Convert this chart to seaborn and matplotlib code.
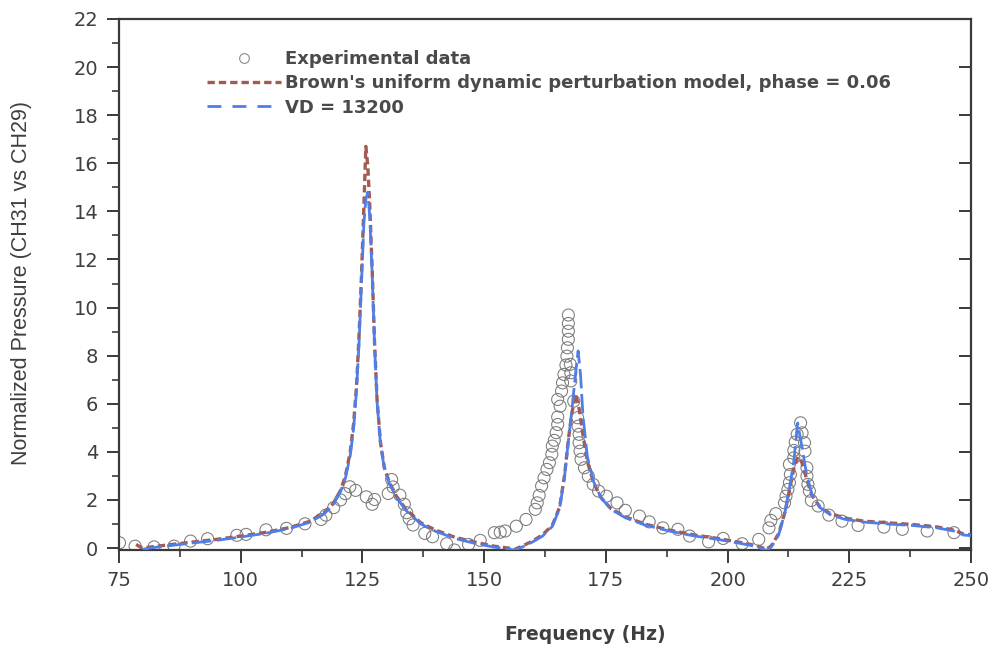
import matplotlib
matplotlib.use("Agg")
import matplotlib.pyplot as plt
from matplotlib.lines import Line2D
from matplotlib.ticker import MultipleLocator
import seaborn as sns
import pandas as pd

# ---------------- data ----------------
exp_freq = [75.1, 78.3, 82.2, 86.3, 89.7, 93.2, 99.2, 101.1, 105.2, 109.4, 113.2, 116.5, 117.5,
            119.1, 120.5, 121.5, 122.4, 123.6, 125.8, 127.0, 127.5, 130.3, 131.0, 131.3, 132.7,
            133.6, 134.1, 134.6, 135.4, 137.8, 139.4, 142.3, 143.9, 146.8, 149.2, 152.1, 153.3,
            154.3, 156.6, 158.6, 160.5, 160.9, 161.3, 161.8, 162.3, 162.9, 163.4, 163.9, 164.0,
            164.4, 164.8, 165.1, 165.1, 165.6, 165.1, 165.9, 166.1, 166.4, 166.8, 167.0, 167.1,
            167.3, 167.3, 167.3, 167.3, 167.7, 167.8, 167.8, 168.4, 169.2, 169.3, 169.5, 169.5,
            169.7, 169.9, 170.6, 171.4, 172.4, 173.5, 175.1, 177.3, 179.0, 181.9, 183.9, 186.7,
            189.8, 192.2, 196.1, 199.1, 203.0, 206.4, 208.5, 208.9, 209.9, 211.7, 212.0, 212.4,
            212.7, 212.9, 212.7, 213.6, 213.6, 213.9, 214.3, 215.0, 215.3, 215.8, 215.9, 216.3,
            216.3, 216.5, 216.8, 217.2, 218.6, 220.8, 223.5, 226.8, 232.1, 235.9, 241.0, 246.5]
exp_pressure = [0.22, 0.08, 0.05, 0.08, 0.29, 0.39, 0.53, 0.57, 0.76, 0.82, 1.01, 1.19, 1.37,
                1.68, 2.00, 2.26, 2.55, 2.40, 2.13, 1.82, 2.02, 2.27, 2.85, 2.54, 2.20,
                1.82, 1.47, 1.22, 0.96, 0.61, 0.47, 0.18, -0.08, 0.15, 0.32, 0.64, 0.66,
                0.71, 0.91, 1.19, 1.61, 1.88, 2.19, 2.58, 2.92, 3.27, 3.55, 3.90, 4.24,
                4.48, 4.80, 5.14, 5.45, 5.90, 6.18, 6.53, 6.87, 7.22, 7.61, 7.98, 8.33,
                8.68, 9.02, 9.34, 9.69, 7.64, 7.29, 6.95, 6.11, 5.42, 5.07, 4.73, 4.38,
                4.03, 3.69, 3.34, 2.99, 2.65, 2.37, 2.16, 1.88, 1.57, 1.33, 1.09, 0.84,
                0.78, 0.50, 0.26, 0.40, 0.18, 0.36, 0.84, 1.15, 1.43, 1.88, 2.16, 2.44,
                2.72, 3.06, 3.48, 3.75, 4.06, 4.41, 4.73, 5.21, 4.79, 4.38, 4.03, 3.34,
                2.99, 2.65, 2.37, 1.98, 1.75, 1.37, 1.12, 0.94, 0.87, 0.78, 0.71, 0.64]

brown_freq = [78.5, 79.5, 80.5, 82, 85, 90, 95, 100, 105, 110, 114, 117, 119, 120.5, 121.5,
              122.5, 123.2, 123.8, 124.3, 124.8, 125.3, 125.7, 126.1, 126.5, 127.0, 127.5,
              128.0, 128.7, 129.5, 130.5, 132, 134, 137, 140, 144, 148, 152, 155, 156.3, 158,
              160, 162, 164, 165.5, 166.5, 167.3, 168.0, 168.8, 169.5, 170.3, 171.2, 172.5,
              174, 176, 179, 183, 188, 193, 198, 203, 206, 208, 209, 210.5, 211.8, 212.8,
              213.6, 214.4, 215.2, 216.2, 217.3, 219, 221, 224, 228, 233, 238, 243, 246.5,
              248.5, 250]
brown_pressure = [0.15, 0.03, 0.02, 0.06, 0.13, 0.25, 0.36, 0.50, 0.65, 0.85, 1.10, 1.45, 1.85,
                  2.40, 3.00, 4.00, 5.20, 6.80, 8.80, 11.3, 14.2, 16.7, 15.9, 14.3, 11.6, 8.5,
                  6.2, 4.4, 3.35, 2.75, 2.15, 1.60, 1.05, 0.75, 0.45, 0.25, 0.08, 0.00, -0.05,
                  0.10, 0.30, 0.55, 0.95, 1.70, 3.00, 4.50, 5.60, 6.40, 5.80, 4.70, 3.60, 2.70,
                  2.10, 1.65, 1.30, 1.00, 0.75, 0.55, 0.40, 0.22, 0.10, -0.05, 0.10, 0.60, 1.50,
                  2.50, 3.30, 3.80, 3.60, 2.90, 2.20, 1.70, 1.45, 1.25, 1.12, 1.05, 0.98, 0.88,
                  0.75, 0.58, 0.55]

vd_freq = [79.8, 82, 85, 90, 95, 100, 105, 110, 114, 117, 119, 120.5, 121.5, 122.5, 123.2,
           123.8, 124.3, 124.8, 125.3, 125.7, 126.1, 126.5, 127.0, 127.5, 128.0, 128.7, 129.5,
           130.5, 132, 134, 137, 140, 144, 148, 152, 155, 156.3, 158, 160, 162, 164, 165.5,
           166.5, 167.3, 168.0, 168.8, 169.3, 169.8, 170.3, 171.2, 172.5, 174, 176, 179, 183,
           188, 193, 198, 203, 206, 208, 209, 210.5, 211.8, 212.8, 213.6, 214.4, 215.2, 216.2,
           217.3, 219, 221, 224, 228, 233, 238, 243, 246.5, 248.5, 250]
vd_pressure = [-0.05, 0.02, 0.09, 0.21, 0.32, 0.46, 0.61, 0.81, 1.06, 1.40, 1.80, 2.35, 2.90,
               3.85, 5.00, 6.60, 8.50, 11.0, 13.5, 14.5, 14.8, 13.8, 11.4, 8.4, 6.1, 4.35,
               3.30, 2.70, 2.10, 1.55, 1.00, 0.70, 0.40, 0.20, 0.04, -0.04, -0.08, 0.06, 0.26,
               0.50, 0.90, 1.65, 2.95, 4.45, 5.70, 7.30, 8.20, 7.20, 5.50, 3.80, 2.75, 2.10,
               1.62, 1.26, 0.96, 0.71, 0.51, 0.36, 0.18, 0.06, -0.10, 0.05, 0.55, 1.50, 2.60,
               3.60, 5.20, 4.30, 3.10, 2.25, 1.68, 1.40, 1.20, 1.08, 1.00, 0.94, 0.84, 0.71,
               0.54, 0.52]

legend_labels = ["Experimental data",
                 "Brown's uniform dynamic perturbation model, phase = 0.06",
                 "VD = 13200"]
x_label = "Frequency (Hz)"
y_label = "Normalized Pressure (CH31 vs CH29)"

# ---------------- style ----------------
sns.set_style("white")
plt.rcParams["font.family"] = ["DejaVu Sans"]

brown = "#A35A52"
blue = "#4F7FE6"
grey_txt = "#3f3f3f"
spine_c = "#3a3a3a"

W, H = 997, 653
fig = plt.figure(figsize=(W / 100, H / 100), dpi=100)
ax = fig.add_axes([119 / W, 1 - 550 / H, (971 - 119) / W, (550 - 19) / H])

exp_df = pd.DataFrame({"f": exp_freq, "p": exp_pressure})
brown_df = pd.DataFrame({"f": brown_freq, "p": brown_pressure})
vd_df = pd.DataFrame({"f": vd_freq, "p": vd_pressure})

sns.scatterplot(data=exp_df, x="f", y="p", ax=ax, marker="o", s=75,
                facecolor="none", edgecolor="#7a7a7a", linewidth=0.75, zorder=2)
sns.lineplot(data=brown_df, x="f", y="p", ax=ax, sort=False, estimator=None,
             color=brown, linewidth=2.4, zorder=3)
sns.lineplot(data=vd_df, x="f", y="p", ax=ax, sort=False, estimator=None,
             color=blue, linewidth=2.0, zorder=4)
lines = ax.get_lines()
lines[0].set_dashes((2.2, 1.2))
lines[1].set_dashes((7, 2))

ax.set_xlim(75, 250)
ax.set_ylim(-0.08, 22)
ax.set_xlabel("")
ax.set_ylabel("")

ax.xaxis.set_major_locator(MultipleLocator(25))
ax.xaxis.set_minor_locator(MultipleLocator(12.5))
ax.yaxis.set_major_locator(MultipleLocator(2))
ax.yaxis.set_minor_locator(MultipleLocator(1))

for s in ax.spines.values():
    s.set_visible(True)
    s.set_color(spine_c)
    s.set_linewidth(1.6)

ax.tick_params(axis="both", which="major", direction="out", length=9, width=1.4,
               color=spine_c, labelsize=14, labelcolor=grey_txt, pad=6)
ax.tick_params(axis="both", which="minor", direction="out", length=5, width=1.2, color=spine_c)
ax.tick_params(axis="x", which="both", bottom=True, top=False)
ax.tick_params(axis="y", which="both", left=True, labelright=False)
ax.tick_params(axis="y", which="major", right=True)
ax.tick_params(axis="y", which="minor", right=False)
for t in ax.yaxis.get_major_ticks():
    t.tick2line.set_marker(0)  # inward on the right spine
    t.tick2line.set_markersize(9)
ax.grid(False)
ax.set_facecolor("white")

# axis labels
fig.text(585 / W, 1 - 635 / H, x_label, ha="center", va="center",
         fontsize=13.5, fontweight="bold", color=grey_txt)
fig.text(22 / W, 1 - 283 / H, y_label, ha="center", va="center", rotation=90,
         fontsize=15.5, color=grey_txt, family=["Liberation Sans", "DejaVu Sans"])

# legend
handles = [Line2D([], [], linestyle="none", marker="o", markersize=7,
                  markerfacecolor="none", markeredgecolor="#8a8a8a", markeredgewidth=0.8),
           Line2D([], [], color=brown, linewidth=2.4, dashes=(2.2, 1.2)),
           Line2D([], [], color=blue, linewidth=2.0, dashes=(5, 4))]
leg = ax.legend(handles, legend_labels, loc="upper left",
                bbox_to_anchor=(207 / W, 1 - 50 / H), bbox_transform=fig.transFigure,
                frameon=False, fontsize=13, handlelength=4.1, handletextpad=0.2,
                labelspacing=0.35, borderpad=0, borderaxespad=0)
for t in leg.get_texts():
    t.set_fontweight("bold")
    t.set_color("#4a4a4a")

fig.savefig("out.png", dpi=100, facecolor="white")
